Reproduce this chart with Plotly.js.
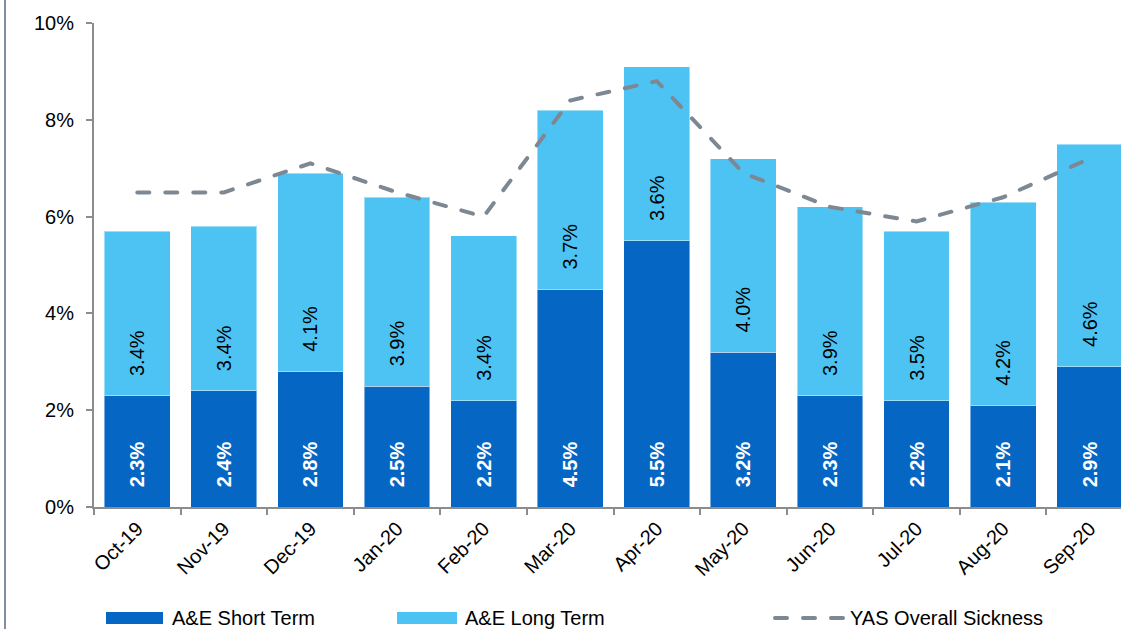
<!DOCTYPE html>
<html>
<head>
<meta charset="utf-8">
<script src="https://cdn.plot.ly/plotly-3.0.1.min.js"></script>
<style>
  html, body { margin: 0; padding: 0; overflow: hidden; background: #ffffff; }
  #wrap { position: relative; width: 1121px; height: 629px; overflow: hidden; }
  #leftline { position: absolute; left: 4px; top: 0; width: 2px; height: 629px; background: #7f8ea0; z-index: 5; }
  #chart { position: absolute; left: 0; top: 0; width: 1140px; height: 629px; }
  #chart .scatterlayer path.js-line { stroke-linecap: round; }
  #chart .layer-above path { stroke-linecap: round; }
</style>
</head>
<body>
<div id="wrap">
  <div id="leftline"></div>
  <div id="chart"></div>
</div>
<script>
// ---- Data ----
const months = ["Oct-19","Nov-19","Dec-19","Jan-20","Feb-20","Mar-20","Apr-20","May-20","Jun-20","Jul-20","Aug-20","Sep-20"];
const shortTerm = [2.3, 2.4, 2.8, 2.5, 2.2, 4.5, 5.5, 3.2, 2.3, 2.2, 2.1, 2.9];
const longTerm  = [3.4, 3.4, 4.1, 3.9, 3.4, 3.7, 3.6, 4.0, 3.9, 3.5, 4.2, 4.6];
const overallSickness = [6.5, 6.5, 7.1, 6.5, 6.0, 8.4, 8.8, 6.9, 6.2, 5.9, 6.4, 7.2];
const seriesNames = ["A&E Short Term", "A&E Long Term", "YAS Overall Sickness"];

// ---- Styles ----
const darkBlue = "#0566c4";
const lightBlue = "#4cc3f3";
const lineGray = "#7d8893";
const axisGray = "#8c8c8c";
const font = "Liberation Sans, Arial, sans-serif";
const pad = "\u00a0\u00a0\u00a0";

const fmt = v => pad + v.toFixed(1) + "%";

const traces = [
  {
    type: "bar", name: seriesNames[0], x: months, y: shortTerm,
    marker: { color: darkBlue, line: { color: "rgba(255,255,255,0.45)", width: 1 } },
    text: shortTerm.map(fmt), textposition: "inside", insidetextanchor: "start",
    textangle: -90, constraintext: "none",
    textfont: { family: font, size: 20, color: "#ffffff", weight: "bold" },
    hoverinfo: "skip", showlegend: false
  },
  {
    type: "bar", name: seriesNames[1], x: months, y: longTerm,
    marker: { color: lightBlue, line: { color: "rgba(255,255,255,0.45)", width: 1 } },
    text: longTerm.map(fmt), textposition: "inside", insidetextanchor: "start",
    textangle: -90, constraintext: "none",
    textfont: { family: font, size: 20, color: "#000000" },
    hoverinfo: "skip", showlegend: false
  },
  {
    type: "scatter", mode: "lines", name: seriesNames[2], x: months, y: overallSickness,
    line: { color: lineGray, width: 4, dash: "12px,16px" },
    hoverinfo: "skip", showlegend: false
  }
];

// ---- Layout geometry (pixels) ----
const W = 1140, H = 629;
const mL = 94, mT = 23, mB = 122, mR = 7;
const plotW = W - mL - mR, plotH = H - mT - mB;
const px2x = px => (px - mL) / plotW;
const py2y = py => (H - mB - py) / plotH;

// Custom legend (swatches + labels)
const legendY = 618;
const legendItems = [
  { x0: 106, x1: 163, tx: 170, kind: "box", color: darkBlue, label: seriesNames[0] },
  { x0: 397, x1: 457, tx: 463, kind: "box", color: lightBlue, label: seriesNames[1] },
  { x0: 775, x1: 843, tx: 848, kind: "line", color: lineGray, label: seriesNames[2] }
];
const shapes = [];
const annotations = [];
legendItems.forEach(it => {
  if (it.kind === "box") {
    shapes.push({ type: "rect", xref: "paper", yref: "paper",
      x0: px2x(it.x0), x1: px2x(it.x1), y0: py2y(legendY + 6), y1: py2y(legendY - 6),
      fillcolor: it.color, line: { width: 0 } });
  } else {
    shapes.push({ type: "line", xref: "paper", yref: "paper",
      x0: px2x(it.x0), x1: px2x(it.x1), y0: py2y(legendY), y1: py2y(legendY),
      line: { color: it.color, width: 4, dash: "12px,16px" } });
  }
  annotations.push({ xref: "paper", yref: "paper", x: px2x(it.tx), y: py2y(legendY),
    xanchor: "left", yanchor: "middle", showarrow: false, text: it.label,
    font: { family: font, size: 20, color: "#000000" } });
});

const layout = {
  width: W, height: H,
  margin: { l: mL, r: mR, t: mT, b: mB, pad: 0 },
  barmode: "stack", bargap: 0.24,
  paper_bgcolor: "#ffffff", plot_bgcolor: "#ffffff",
  font: { family: font, size: 20, color: "#000000" },
  showlegend: false,
  xaxis: {
    type: "category", range: [-0.5, 11.5], fixedrange: true,
    showline: true, linecolor: axisGray, linewidth: 2,
    ticks: "outside", tickson: "boundaries", ticklen: 6, tickcolor: axisGray, tickwidth: 2,
    tickangle: -45, tickfont: { family: font, size: 20, color: "#000000" },
    showgrid: false, zeroline: false
  },
  yaxis: {
    range: [0, 10], dtick: 2, tick0: 0, ticksuffix: "%", fixedrange: true,
    showline: true, linecolor: axisGray, linewidth: 2,
    ticks: "outside", ticklen: 6, tickcolor: axisGray, tickwidth: 2,
    ticklabelstandoff: 8,
    tickfont: { family: font, size: 20, color: "#000000" },
    showgrid: false, zeroline: false
  },
  shapes: shapes,
  annotations: annotations
};

Plotly.newPlot("chart", traces, layout, { displayModeBar: false, staticPlot: true });
</script>
</body>
</html>
